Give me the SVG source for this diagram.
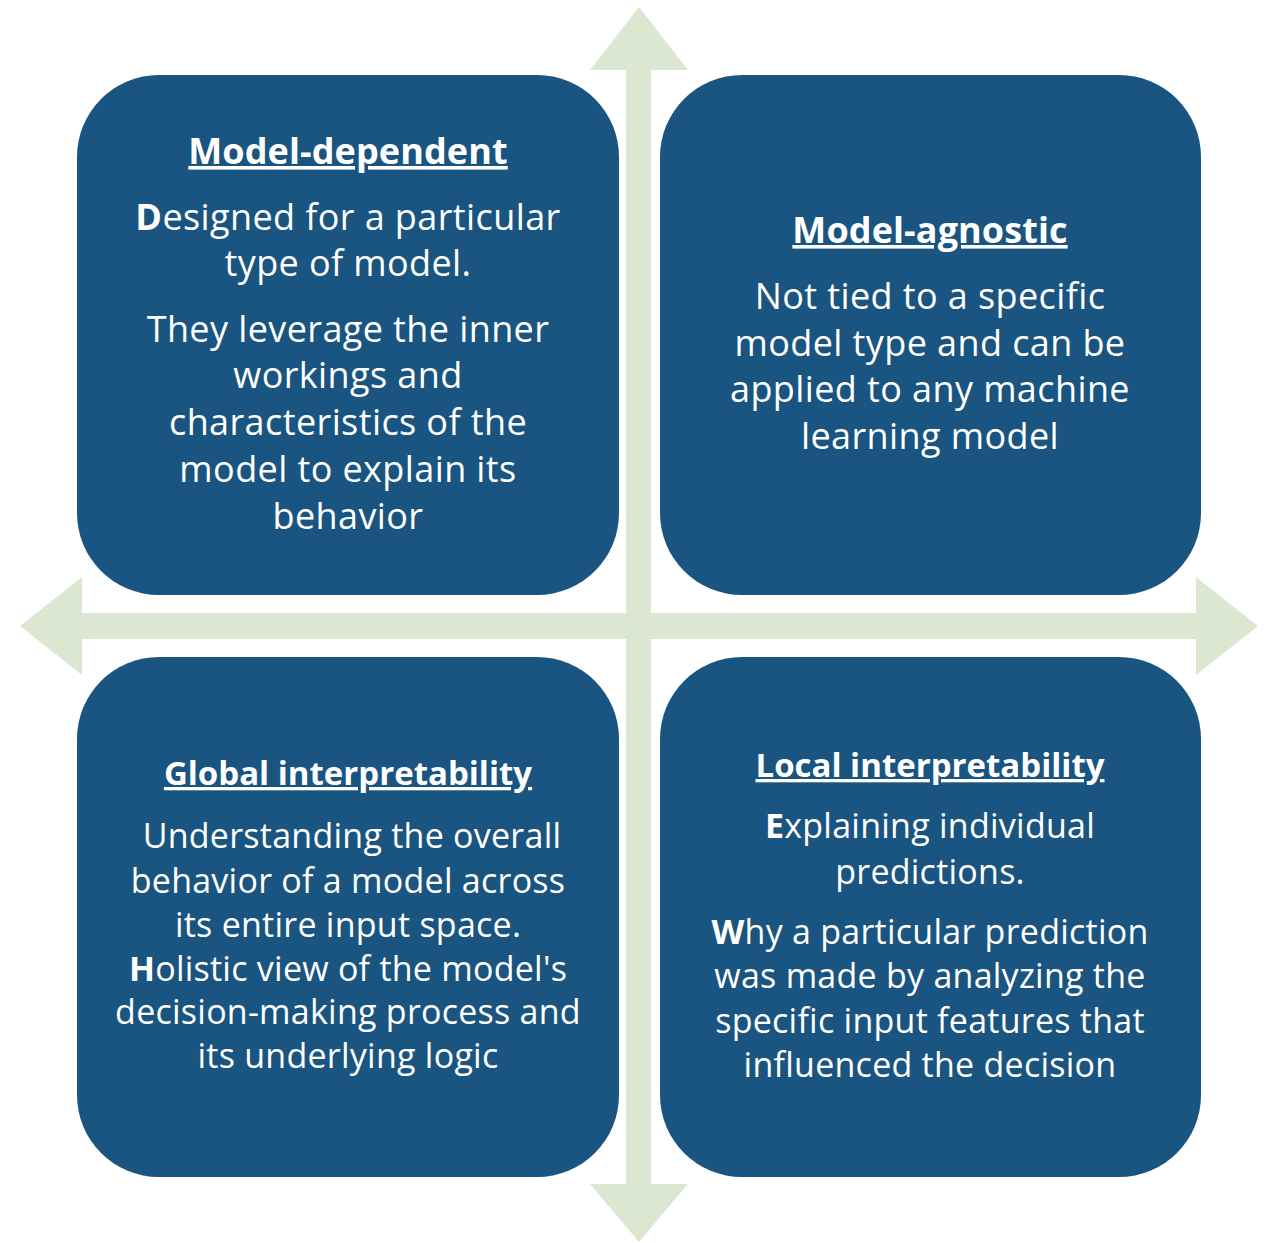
<svg xmlns="http://www.w3.org/2000/svg" width="1269" height="1243" viewBox="0 0 1269 1243">
  <style>
    .axis { fill: #DCE7D2; }
    .card { fill: #1A5480; }
    text { font-family: "Open Sans", Lato, sans-serif; fill: #FFFFFF; text-anchor: middle; }
    .head { font-weight: 700; text-decoration: underline; }
    .top .head { font-size: 36px; letter-spacing: 0.1px; }
    .bottom .head { font-size: 33px; }
    .top .body { font-size: 36px; letter-spacing: 0.4px; }
    .bottom .body { font-size: 34px; letter-spacing: 0.25px; }
    .b { font-weight: 700; }
  </style>

  <!-- crossed double-headed axes behind the quadrants -->
  <g id="connectors">
    <polygon id="axis-vertical" class="axis" points="639,7 688,70 651,70 651,1184 688,1184 639,1242 590,1184 626,1184 626,70 590,70"/>
    <polygon id="axis-horizontal" class="axis" points="20,626 82,577 82,613 1196,613 1196,577 1258,626 1196,675 1196,639 82,639 82,675"/>
  </g>

  <!-- top-left quadrant -->
  <g id="model-dependent" class="top">
    <rect class="card" x="77" y="75" width="542" height="520" rx="82" ry="82"/>
    <text class="head" x="348" y="164">Model-dependent</text>
    <text class="body" x="348" y="230"><tspan class="b">D</tspan>esigned for a particular</text>
    <text class="body" x="348" y="276">type of model.</text>
    <text class="body" x="348" y="342">They leverage the inner</text>
    <text class="body" x="348" y="388">workings and</text>
    <text class="body" x="348" y="435">characteristics of the</text>
    <text class="body" x="348" y="482">model to explain its</text>
    <text class="body" x="348" y="529">behavior</text>
  </g>

  <!-- top-right quadrant -->
  <g id="model-agnostic" class="top">
    <rect class="card" x="660" y="75" width="541" height="520" rx="82" ry="82"/>
    <text class="head" x="930" y="243">Model-agnostic</text>
    <text class="body" x="930" y="309">Not tied to a specific</text>
    <text class="body" x="930" y="356">model type and can be</text>
    <text class="body" x="930" y="402">applied to any machine</text>
    <text class="body" x="930" y="449">learning model</text>
  </g>

  <!-- bottom-left quadrant -->
  <g id="global-interpretability" class="bottom">
    <rect class="card" x="77" y="657" width="542" height="520" rx="82" ry="82"/>
    <text class="head" x="348" y="785">Global interpretability</text>
    <text class="body" x="352" y="848">Understanding the overall</text>
    <text class="body" x="348" y="893">behavior of a model across</text>
    <text class="body" x="348" y="937">its entire input space.</text>
    <text class="body" x="348" y="981"><tspan class="b">H</tspan>olistic view of the model's</text>
    <text class="body" x="348" y="1024">decision-making process and</text>
    <text class="body" x="348" y="1068">its underlying logic</text>
  </g>

  <!-- bottom-right quadrant -->
  <g id="local-interpretability" class="bottom">
    <rect class="card" x="660" y="657" width="541" height="520" rx="82" ry="82"/>
    <text class="head" x="930" y="777">Local interpretability</text>
    <text class="body" x="930" y="838"><tspan class="b">E</tspan>xplaining individual</text>
    <text class="body" x="930" y="884">predictions.</text>
    <text class="body" x="930" y="944"><tspan class="b">W</tspan>hy a particular prediction</text>
    <text class="body" x="930" y="988">was made by analyzing the</text>
    <text class="body" x="930" y="1033">specific input features that</text>
    <text class="body" x="930" y="1077">influenced the decision</text>
  </g>
</svg>
